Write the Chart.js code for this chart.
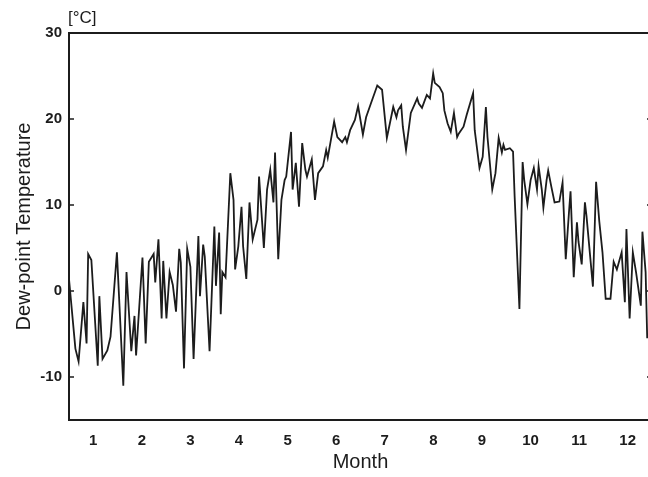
<!DOCTYPE html>
<html>
<head>
<meta charset="utf-8">
<script src="https://cdn.jsdelivr.net/npm/chart.js@4.4.0/dist/chart.umd.min.js"></script>
<style>
  html, body { margin: 0; padding: 0; background: #fff; overflow: hidden; }
  #wrap { width: 660px; height: 477px; }
</style>
</head>
<body>
<div id="wrap"><canvas id="chart" width="660" height="477"></canvas></div>
<script>
// day of year (0 = 1 Jan) and dew-point value
const days = [
  0, 4, 6, 9, 11, 12, 14, 18, 19, 21, 24, 26, 30, 34, 36, 39, 41, 42, 46, 48,
  50, 53, 54, 56, 58, 59, 61, 63, 65, 67, 69, 70, 72, 74, 76, 78, 81, 82, 84, 85,
  88, 91, 92, 94, 95, 96, 98, 101, 103, 104, 106, 108, 109, 111, 113, 115, 118, 119, 122, 124,
  126, 128, 129, 131, 133, 135, 136, 139, 140, 142, 144, 146, 148, 149, 152, 154, 156, 159, 161, 162,
  164, 166, 168, 171, 173, 174, 176, 179, 181, 184, 186, 189, 193, 196, 199, 203, 205, 206, 208, 209,
  211, 214, 218, 219, 221, 224, 226, 228, 229, 232, 234, 235, 237, 239, 241, 243, 244, 247, 249, 253,
  254, 257, 259, 261, 262, 265, 267, 269, 271, 272, 273, 276, 278, 279, 282, 284, 285, 287, 289, 291,
  293, 294, 296, 297, 299, 300, 302, 304, 307, 309, 311, 313, 314, 316, 318, 319, 321, 323, 324, 328,
  330, 332, 334, 336, 339, 341, 343, 346, 348, 349, 351, 353, 355, 358, 359, 361, 362
];
const dewPoint = [
  1.4, -6.7, -8.2, -1.3, -6.1, 4.3, 3.6, -8.7, -0.6, -7.9, -6.9, -5.3, 4.5, -11, 2.2, -7, -2.9, -7.5, 3.9, -6.1,
  3.4, 4.3, 1, 6, -3.2, 3.5, -3.2, 2.2, 0.7, -2.4, 4.9, 3.3, -9, 4.9, 2.8, -7.9, 6.4, -0.6, 5.4, 4,
  -7, 7.5, 0.6, 6.8, -2.7, 2.2, 1.6, 13.7, 10.6, 2.5, 5.2, 9.8, 5.2, 1.4, 10.3, 6, 8.3, 13.3, 5, 11.8,
  14.1, 10.3, 16.1, 3.7, 10.6, 12.9, 13.3, 18.5, 11.8, 14.9, 9.8, 17.2, 14.1, 13.3, 15.3, 10.6, 13.7, 14.5, 16.4, 15.5,
  17.6, 19.7, 17.9, 17.3, 17.9, 17.3, 18.7, 19.9, 21.5, 18.2, 20.2, 21.8, 23.9, 23.4, 17.8, 21.4, 20.2, 21, 21.6, 19.1,
  16.4, 20.7, 22.4, 21.8, 21.3, 22.8, 22.4, 25.3, 24.2, 23.7, 23, 21, 19.5, 18.5, 20.7, 17.9, 18.3, 19.1, 20.5, 23,
  18.7, 14.3, 15.6, 21.4, 17.9, 11.8, 13.7, 17.8, 16.1, 17, 16.4, 16.6, 16.2, 11, -2.1, 15, 12.9, 10.1, 12.9, 14.3,
  11.8, 14.5, 11.8, 9.7, 12.9, 14, 12.1, 10.3, 10.4, 12.6, 3.7, 9.1, 11.6, 1.6, 8, 5.7, 3.1, 10.3, 8.7, 0.5,
  12.7, 8.1, 4.5, -0.9, -0.9, 3.4, 2.5, 4.5, -1.3, 7.2, -3.2, 4.5, 2.2, -1.7, 6.9, 2.2, -5.5
];
const monthLabels = ['1', '2', '3', '4', '5', '6', '7', '8', '9', '10', '11', '12'];
const yTicks = [-10, 0, 10, 20, 30];

const INK = '#1c1c1c';
const FONT = "'Liberation Sans', Arial, sans-serif";

// frame round the plot, inward ticks and the unit label
const framePlugin = {
  id: 'frame',
  afterDraw(chart) {
    const ctx = chart.ctx;
    const {left, top, right, bottom} = chart.chartArea;
    const yScale = chart.scales.y;
    ctx.save();
    ctx.strokeStyle = INK;
    ctx.lineWidth = 2;
    ctx.strokeRect(left, top, right - left, bottom - top);
    ctx.lineWidth = 1.5;
    yTicks.forEach(v => {
      if (v === 30) return;
      const y = yScale.getPixelForValue(v);
      ctx.beginPath();
      ctx.moveTo(left, y);
      ctx.lineTo(left + 5, y);
      ctx.moveTo(right, y);
      ctx.lineTo(right - 5, y);
      ctx.stroke();
    });
    ctx.fillStyle = INK;
    ctx.font = '17px ' + FONT;
    ctx.textBaseline = 'middle';
    ctx.textAlign = 'left';
    ctx.fillText('[°C]', left - 1, 18);
    ctx.restore();
  }
};

new Chart(document.getElementById('chart'), {
  type: 'line',
  data: {
    datasets: [{
      label: 'Dew-point Temperature',
      data: days.map((d, i) => ({x: d, y: dewPoint[i]})),
      borderColor: INK,
      borderWidth: 1.8,
      pointRadius: 0,
      tension: 0,
      fill: false
    }]
  },
  options: {
    responsive: false,
    animation: false,
    layout: { padding: { left: 0, top: 33, right: 8, bottom: 0 } },
    plugins: {
      legend: { display: false },
      tooltip: { enabled: false }
    },
    scales: {
      x: {
        type: 'linear',
        min: 0,
        max: 365,
        afterBuildTicks(scale) {
          scale.ticks = monthLabels.map((m, i) => ({value: (i + 0.5) * 365 / 12}));
        },
        afterFit(scale) { scale.height = 57; },
        grid: { display: false, drawTicks: false },
        border: { display: false },
        ticks: {
          autoSkip: false,
          maxRotation: 0,
          padding: 12,
          color: INK,
          font: { family: FONT, size: 15, weight: 'bold' },
          callback: (v, i) => monthLabels[i]
        },
        title: {
          display: true,
          text: 'Month',
          color: INK,
          padding: { top: 0, bottom: 3 },
          font: { family: FONT, size: 20 }
        }
      },
      y: {
        min: -15,
        max: 30,
        afterBuildTicks(scale) {
          scale.ticks = yTicks.map(v => ({value: v}));
        },
        afterFit(scale) { scale.width = 69; },
        grid: { display: false, drawTicks: false },
        border: { display: false },
        ticks: {
          padding: 7,
          color: INK,
          font: { family: FONT, size: 15, weight: 'bold' }
        },
        title: {
          display: true,
          text: 'Dew-point Temperature',
          color: INK,
          padding: { top: 12, bottom: 0 },
          font: { family: FONT, size: 20 }
        }
      }
    }
  },
  plugins: [framePlugin]
});
</script>
</body>
</html>
